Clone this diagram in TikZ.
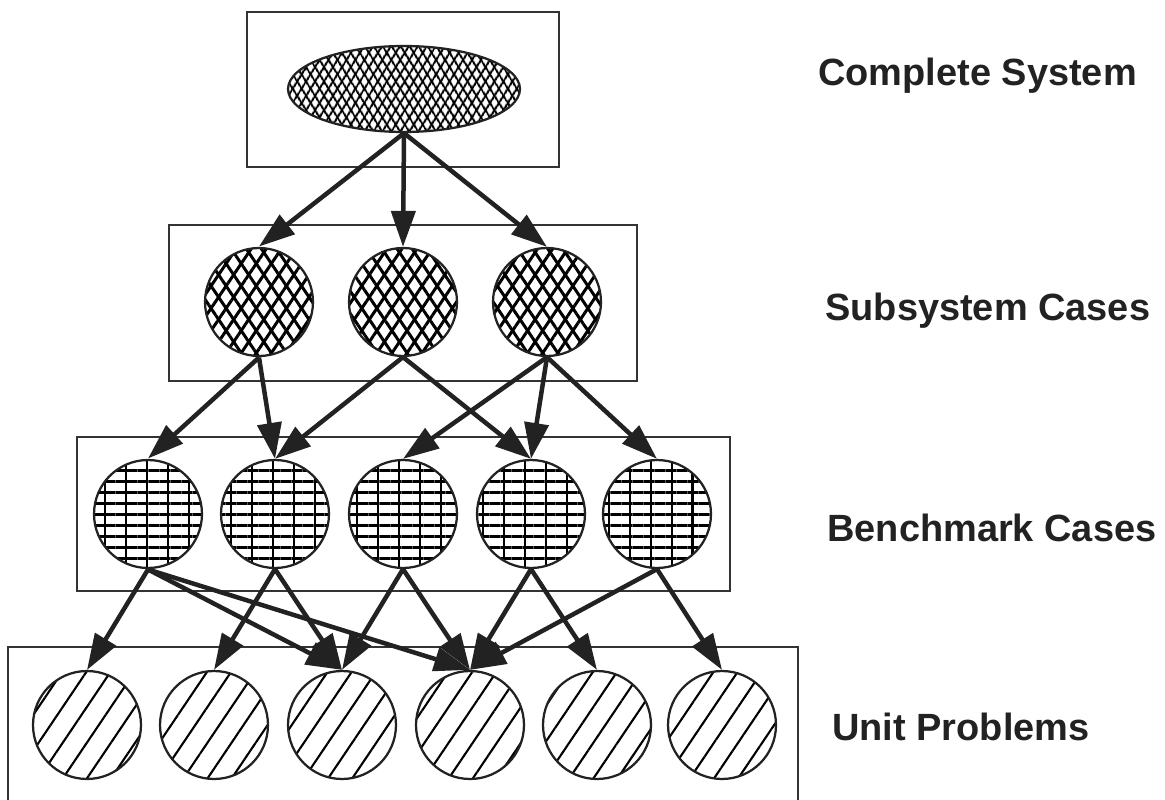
\documentclass[tikz,border=0pt]{standalone}
\usepackage{fontspec}
\newfontfamily\etiq{Liberation Sans}
\usepackage{tikz}
\usetikzlibrary{positioning}
\usetikzlibrary{arrows.meta,shapes.geometric,patterns.meta}
\definecolor{trazo}{HTML}{222222}
\definecolor{marco}{HTML}{333333}

\begin{document}
\begin{tikzpicture}[x=0.02cm, y=-0.02cm,
    caja/.style={draw=marco, line width=0.04cm, inner sep=0pt},
    nodo/.style={circle, draw=trazo, line width=0.045cm, minimum size=2.16cm, inner sep=0pt},
    sistema/.style={ellipse, draw=trazo, line width=0.045cm, minimum width=4.64cm, minimum height=1.72cm, inner sep=0pt,
      preaction={pattern={Lines[angle=58, distance=0.14cm, line width=0.045cm]}},
      pattern={Lines[angle=-58, distance=0.14cm, line width=0.045cm]}},
    subsis/.style={nodo,
      preaction={pattern={Lines[angle=56, distance=0.25cm, line width=0.06cm]}},
      pattern={Lines[angle=-56, distance=0.25cm, line width=0.06cm]}},
    bench/.style={nodo,
      preaction={pattern={Lines[angle=90, distance=0.42cm, line width=0.055cm]}},
      pattern={Lines[angle=0, distance=0.22cm, line width=0.06cm]}},
    unidad/.style={nodo,
      pattern={Lines[angle=56, distance=0.4cm, line width=0.042cm]}},
    flecha/.style={-{Triangle[length=0.72cm, width=0.48cm]}, draw=trazo, line width=0.09cm},
    etiqueta/.style={anchor=base west, inner sep=0pt, text=trazo,
      font=\etiq\bfseries\fontsize{21.6}{26}\selectfont}]
  \useasboundingbox (0,0) rectangle (1165,800);
  \clip (0,0) rectangle (1165,800);

  % Cajas
  \node[caja, minimum width=6.24cm, minimum height=3.1cm] (cajatop) at (403,89.5) {};
  \node[caja, minimum width=9.36cm, minimum height=3.12cm] (cajasub) at (403,303) {};
  \node[caja, minimum width=13.06cm, minimum height=3.08cm] (cajabench) at (403.5,514) {};
  \node[caja, minimum width=15.8cm, minimum height=3.36cm] (cajaunit) at (403,731) {};

  % Nodos
  \node[sistema] (top) at (404,89) {};
  \node[subsis] (s1) at (259,302) {};
  \node[subsis] (s2) at (403,302) {};
  \node[subsis] (s3) at (547,302) {};
  \node[bench] (b1) at (148,514) {};
  \node[bench] (b2) at (275,514) {};
  \node[bench] (b3) at (403,514) {};
  \node[bench] (b4) at (531,514) {};
  \node[bench] (b5) at (657,514) {};
  \node[unidad] (u1) at (87,725) {};
  \node[unidad] (u2) at (214,725) {};
  \node[unidad] (u3) at (342,725) {};
  \node[unidad] (u4) at (470,725) {};
  \node[unidad] (u5) at (597,725) {};
  \node[unidad] (u6) at (722,725) {};

  % Aristas
  \draw[flecha] (top.south) -- (s1.north);
  \draw[flecha] (top.south) -- (s2.north);
  \draw[flecha] (top.south) -- (s3.north);
  \draw[flecha] (s1.south) -- (b1.north);
  \draw[flecha] (s1.south) -- (b2.north);
  \draw[flecha] (s2.south) -- (b2.north);
  \draw[flecha] (s2.south) -- (b4.north);
  \draw[flecha] (s3.south) -- (b3.north);
  \draw[flecha] (s3.south) -- (b4.north);
  \draw[flecha] (s3.south) -- (b5.north);
  \draw[flecha] (b1.south) -- (u1.north);
  \draw[flecha] (b1.south) -- (u3.north);
  \draw[flecha] (b1.south) -- (u4.north);
  \draw[flecha] (b2.south) -- (u2.north);
  \draw[flecha] (b2.south) -- (u3.north);
  \draw[flecha] (b3.south) -- (u3.north);
  \draw[flecha] (b3.south) -- (u4.north);
  \draw[flecha] (b4.south) -- (u4.north);
  \draw[flecha] (b4.south) -- (u5.north);
  \draw[flecha] (b5.south) -- (u4.north);
  \draw[flecha] (b5.south) -- (u6.north);

  % Etiquetas
  \node[etiqueta] (lcomp) at (818,86) {Complete System};
  \node[etiqueta] (lsub) at (825,320) {Subsystem Cases};
  \node[etiqueta] (lbench) at (827,541) {Benchmark Cases};
  \node[etiqueta] (lunit) at (832,740) {Unit Problems};
\end{tikzpicture}
\end{document}
